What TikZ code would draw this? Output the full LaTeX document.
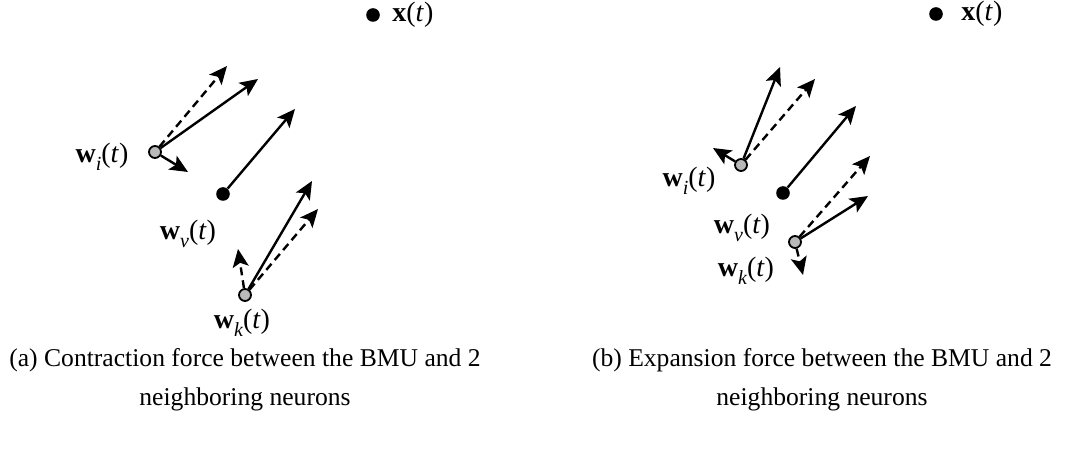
\documentclass[tikz,border=0pt]{standalone}
\usepackage{fontspec}
\setmainfont{Liberation Serif}
\usetikzlibrary{arrows.meta}
\newcommand{\vw}[1]{\textbf{w}\raisebox{-0.28em}{\fontsize{10}{10}\selectfont\itshape #1}(\textit{t})}
\begin{document}
\begin{tikzpicture}[x=0.5pt,y=-0.5pt,
  vec/.style={line width=1.2pt,-{Stealth[length=9pt,width=8pt,inset=2pt]}},
  dvec/.style={vec,dash pattern=on 4pt off 2.5pt},
  bmu/.style={circle,fill=black,inner sep=0pt,minimum size=6.8pt},
  nbr/.style={circle,draw=black,line width=0.9pt,fill=gray!55,inner sep=0pt,minimum size=6pt},
  xdot/.style={circle,fill=black,inner sep=0pt,minimum size=6.8pt},
  lab/.style={inner sep=0pt,font=\fontsize{14}{14}\selectfont},
  captext/.style={inner sep=0pt,align=center,font=\fontsize{12.8}{19.5}\selectfont}]
\useasboundingbox (0,0) rectangle (1076,459);
% ---------- panel (a)
\node[xdot] (xa) at (373,15) {};
\node[lab,anchor=west] (xal) at (392,15) {\textbf{x}(\textit{t})};
\node[nbr] (wia) at (155,152) {};
\node[bmu] (wva) at (223,194) {};
\node[nbr] (wka) at (245,295) {};
\coordinate (a1) at (227,66);
\coordinate (a2) at (258,79);
\coordinate (a3) at (188,172);
\coordinate (a4) at (295,109);
\coordinate (a5) at (312,181);
\coordinate (a6) at (318,209);
\coordinate (a7) at (238,249);
\draw[dvec] (wia) -- (a1);
\draw[vec] (wia) -- (a2);
\draw[vec] (wia) -- (a3);
\draw[vec] (wva) -- (a4);
\draw[vec] (wka) -- (a5);
\draw[dvec] (wka) -- (a6);
\draw[dvec] (wka) -- (a7);
\node[lab,anchor=center] (lia) at (102,157) {\vw{i}};
\node[lab,anchor=center] (lva) at (188,234) {\vw{v}};
\node[lab,anchor=center] (lka) at (242,323) {\vw{k}};
\node[captext] (capa) at (245,380) {(a) Contraction force between the BMU and 2\\neighboring neurons};
% ---------- panel (b)
\node[xdot] (xb) at (936,14) {};
\node[lab,anchor=west] (xbl) at (961,14) {\textbf{x}(\textit{t})};
\node[nbr] (wib) at (741,165) {};
\node[bmu] (wvb) at (783,193) {};
\node[nbr] (wkb) at (795,242) {};
\coordinate (b1) at (780,67);
\coordinate (b2) at (815,79);
\coordinate (b3) at (713,148);
\coordinate (b4) at (856,106);
\coordinate (b5) at (868,196);
\coordinate (b6) at (870,156);
\coordinate (b7) at (803,275);
\draw[vec] (wib) -- (b1);
\draw[dvec] (wib) -- (b2);
\draw[vec] (wib) -- (b3);
\draw[vec] (wvb) -- (b4);
\draw[vec] (wkb) -- (b5);
\draw[dvec] (wkb) -- (b6);
\draw[dvec] (wkb) -- (b7);
\node[lab,anchor=center] (lib) at (689,181) {\vw{i}};
\node[lab,anchor=center] (lvb) at (742,228) {\vw{v}};
\node[lab,anchor=center] (lkb) at (746,271) {\vw{k}};
\node[captext] (capb) at (822,380) {(b) Expansion force between the BMU and 2\\neighboring neurons};
\end{tikzpicture}
\end{document}
